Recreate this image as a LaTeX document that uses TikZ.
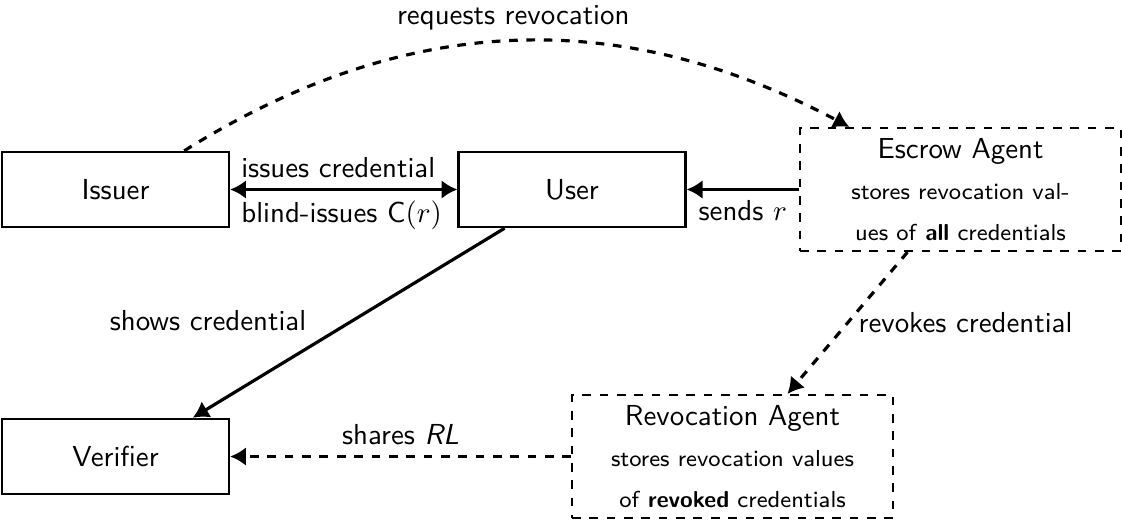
\documentclass[tikz,border=0pt]{standalone}
\usetikzlibrary{arrows.meta,calc}
\renewcommand{\familydefault}{\sfdefault}
\newcommand{\smallline}{\fontsize{8}{14.2}\selectfont}
\begin{document}
\begin{tikzpicture}[x=0.346pt, y=-0.346pt,
  >={Latex[length=5.5pt,width=6.5pt]},
  every node/.style={font=\fontsize{10}{12}\selectfont},
  box/.style={draw, thick, minimum width=78.5pt, minimum height=26pt, inner sep=0pt},
  agent/.style={draw, thick, dashed, minimum width=111pt, minimum height=42.5pt,
    align=center, inner sep=0pt, font=\fontsize{10}{14.2}\selectfont},
  conn/.style={line width=1.1pt},
  arr/.style={conn, ->},
  darr/.style={conn, dashed, ->}]
\useasboundingbox (0,0) rectangle (1122,519);

\node[box] (issuer) at (115.5,189.5) {Issuer};
\node[box] (user) at (572,189.5) {User};
\node[box] (verifier) at (115.5,456.5) {Verifier};
\node[agent] (escrow) at (960.5,189.5) {Escrow Agent\\
  {\smallline stores revocation val-}\\
  {\smallline ues of \textbf{all} credentials}};
\node[agent] (revocation) at (732.5,456.5) {Revocation Agent\\
  {\smallline stores revocation values}\\
  {\smallline of \textbf{revoked} credentials}};

\coordinate (issuerN) at ($(issuer.north west)!0.8!(issuer.north east)$);
\coordinate (escrowN) at ($(escrow.north west)!0.156!(escrow.north east)$);
\coordinate (escrowS) at ($(escrow.south west)!0.336!(escrow.south east)$);
\coordinate (revN) at ($(revocation.north west)!0.67!(revocation.north east)$);
\coordinate (userS) at ($(user.south west)!0.206!(user.south east)$);
\coordinate (verN) at ($(verifier.north west)!0.837!(verifier.north east)$);

\draw[conn, <->] (issuer) -- (user)
  node[pos=0, above right] {issues credential}
  node[pos=0, below right] {blind-issues C$(r)$};
\draw[arr] (escrow) -- (user) node[midway, below] {sends $r$};
\draw[arr] (userS) -- (verN) node[pos=0.6, above left] {shows credential};
\draw[darr] (escrowS) -- (revN) node[midway, right] {revokes credential};
\draw[darr] (revocation) -- (verifier) node[midway, above] {shares \textit{RL}};
\draw[darr] (issuerN) to[bend left=30] node[above] {requests revocation} (escrowN);
\end{tikzpicture}
\end{document}
